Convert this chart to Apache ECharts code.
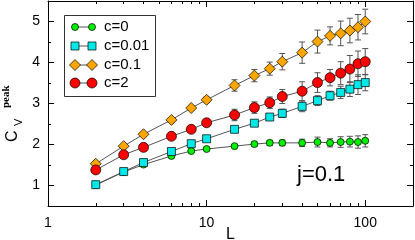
<!DOCTYPE html>
<html><head><meta charset="utf-8">
<script src="https://cdn.jsdelivr.net/npm/echarts@6/dist/echarts.min.js"></script>
<style>html,body{margin:0;padding:0;background:#fff}#c{width:415px;height:240px}</style>
</head><body><div id="c"></div>
<script>
// ---- data ----
const sizesL = [2,3,4,6,8,10,15,20,25,30,40,50,60,70,80,90,100];
const seriesNames = ['c=0','c=0.01','c=0.1','c=2'];
const c0    = [1.01,1.33,1.51,1.72,1.84,1.89,1.96,2.01,2.04,2.04,2.04,2.06,2.04,2.06,2.07,2.06,2.09];
const c0Err = [0.01,0.01,0.02,0.02,0.03,0.03,0.04,0.05,0.06,0.07,0.09,0.12,0.10,0.13,0.13,0.15,0.15];
const c001    = [1.02,1.34,1.56,1.83,2.02,2.14,2.37,2.52,2.67,2.76,2.93,3.07,3.19,3.27,3.35,3.46,3.51];
const c001Err = [0.01,0.01,0.02,0.02,0.03,0.03,0.06,0.07,0.08,0.10,0.13,0.12,0.11,0.15,0.18,0.24,0.20];
const c01    = [1.53,1.96,2.25,2.60,2.89,3.09,3.44,3.68,3.85,4.02,4.24,4.51,4.65,4.71,4.78,4.86,5.00];
const c01Err = [0.02,0.03,0.04,0.05,0.06,0.07,0.14,0.15,0.16,0.20,0.26,0.28,0.22,0.30,0.30,0.31,0.30];
const c2    = [1.38,1.75,1.93,2.20,2.37,2.53,2.72,2.90,3.02,3.17,3.30,3.51,3.63,3.74,3.84,3.97,4.02];
const c2Err = [0.02,0.03,0.03,0.04,0.05,0.06,0.14,0.14,0.14,0.17,0.23,0.24,0.20,0.28,0.33,0.31,0.32];
const xMajorTicks = [1,10,100];
const xMinorTicks = [2,3,4,5,6,7,8,9,20,30,40,50,60,70,80,90,200];
const yMajorTicks = [1,2,3,4,5];
const yMinorTicks = [0.5,1.5,2.5,3.5,4.5,5.5];

// ---- styles ----
const values = [c0, c001, c01, c2];
const errs = [c0Err, c001Err, c01Err, c2Err];
const colors = ['#00ee00','#00e8e8','#ffa500','#ff0000'];
const symbols = ['circle','rect','diamond','circle'];
const symSizes = [7, 8, 11, 10];
const FONT = 'Liberation Sans, Arial, Helvetica, sans-serif';

const chart = echarts.init(document.getElementById('c'), null, {renderer:'canvas'});

function xAx(pos, ticks, len, showLine, showLabel){
  return {type:'log', logBase:10, min:1, max:200, position:pos,
    axisLine:{show:showLine, lineStyle:{color:'#000', width:1}},
    axisTick:{show:true, inside:true, length:len, customValues:ticks, lineStyle:{color:'#000', width:1}},
    axisLabel:{show:showLabel, customValues:xMajorTicks, color:'#000', fontSize:14, fontFamily:FONT, margin:10},
    splitLine:{show:false}, minorTick:{show:false}};
}
function yAx(pos, ticks, len, showLine, showLabel){
  return {type:'value', min:0.5, max:5.5, position:pos,
    axisLine:{show:showLine, lineStyle:{color:'#000', width:1}},
    axisTick:{show:true, inside:true, length:len, customValues:ticks, lineStyle:{color:'#000', width:1}},
    axisLabel:{show:showLabel, customValues:yMajorTicks, color:'#000', fontSize:14, fontFamily:FONT, margin:8},
    splitLine:{show:false}};
}

const xAxes = [
  Object.assign(xAx('bottom', xMajorTicks, 6, true, true), {name:'L', nameLocation:'middle', nameGap:21,
    nameMoveOverlap:false,
    nameTextStyle:{color:'#000', fontSize:16, fontFamily:FONT, verticalAlign:'top'}}),
  xAx('bottom', xMinorTicks, 3, false, false),
  xAx('top', xMajorTicks, 6, true, false),
  xAx('top', xMinorTicks, 3, false, false)
];
const yAxes = [
  yAx('left', yMajorTicks, 6, true, true),
  yAx('left', yMinorTicks, 3, false, false),
  yAx('right', yMajorTicks, 6, true, false),
  yAx('right', yMinorTicks, 3, false, false)
];

const series = [];
// error bars
values.forEach((vals, i) => {
  series.push({
    type:'custom', name: seriesNames[i] + ' err', xAxisIndex:0, yAxisIndex:0, z:1,
    data: sizesL.map((L, k) => [L, vals[k] - errs[i][k], vals[k] + errs[i][k]]),
    encode:{x:0, y:[1,2]},
    renderItem: function(params, api){
      const x = api.value(0);
      const p1 = api.coord([x, api.value(1)]);
      const p2 = api.coord([x, api.value(2)]);
      const st = {stroke:'#555', lineWidth:1};
      return {type:'group', children:[
        {type:'line', shape:{x1:p1[0], y1:p1[1], x2:p2[0], y2:p2[1]}, style:st},
        {type:'line', shape:{x1:p1[0]-3, y1:p1[1], x2:p1[0]+3, y2:p1[1]}, style:st},
        {type:'line', shape:{x1:p2[0]-3, y1:p2[1], x2:p2[0]+3, y2:p2[1]}, style:st}
      ]};
    },
    animation:false
  });
});
values.forEach((vals, i) => {
  series.push({
    type:'line', name: seriesNames[i], xAxisIndex:0, yAxisIndex:0, z:3,
    data: sizesL.map((L, k) => [L, vals[k]]),
    symbol: symbols[i], symbolSize: symSizes[i], showAllSymbol:true,
    lineStyle:{color:'#555', width:1},
    itemStyle:{color: colors[i], borderColor:'#000', borderWidth:0.7},
    emphasis:{disabled:true},
    animation:false
  });
});

// legend drawn as graphic
const legendChildren = [
  {type:'rect', shape:{x:64.5, y:15.5, width:91, height:81}, style:{fill:'#fff', stroke:'#333', lineWidth:1}, z:10}
];
const rowsY = [27, 46, 65, 83];
function symbolShape(kind, cx, cy, size, color){
  const st = {fill:color, stroke:'#000', lineWidth:0.7};
  if (kind === 'circle') return {type:'circle', shape:{cx:cx, cy:cy, r:size/2}, style:st, z:12};
  if (kind === 'rect') return {type:'rect', shape:{x:cx-size/2, y:cy-size/2, width:size, height:size}, style:st, z:12};
  const h = size/2;
  return {type:'polygon', shape:{points:[[cx,cy-h],[cx+h,cy],[cx,cy+h],[cx-h,cy]]}, style:st, z:12};
}
seriesNames.forEach((nm, i) => {
  const y = rowsY[i];
  legendChildren.push({type:'line', shape:{x1:75, y1:y, x2:92, y2:y}, style:{stroke:'#555', lineWidth:1}, z:11});
  legendChildren.push(symbolShape(symbols[i], 75, y, symSizes[i], colors[i]));
  legendChildren.push(symbolShape(symbols[i], 92, y, symSizes[i], colors[i]));
  legendChildren.push({type:'text', x:104, y:y, style:{text:nm, fill:'#000', font:'15px ' + FONT, textVerticalAlign:'middle', textAlign:'left'}, z:12});
});

chart.setOption({
  animation:false,
  backgroundColor:'#fff',
  grid:{left:48, top:1, width:365, height:205, containLabel:false, outerBoundsMode:'none'},
  xAxis: xAxes,
  yAxis: yAxes,
  series: series,
  graphic:[
    ...legendChildren,
    {type:'text', x:297, y:175, style:{text:'j=0.1', fill:'#000', font:'22px ' + FONT, textVerticalAlign:'middle'}, z:12},
    {type:'group', x:21, y:142, rotation:Math.PI/2, children:[
      {type:'text', x:0, y:0, style:{text:'C', fill:'#000', font:'16px ' + FONT, textVerticalAlign:'bottom', textAlign:'left'}},
      {type:'text', x:16, y:3, style:{text:'V', fill:'#000', font:'11px ' + FONT, textVerticalAlign:'bottom', textAlign:'left'}},
      {type:'text', x:34, y:-9, style:{text:'peak', fill:'#000', font:'bold 11px "Liberation Serif", "Times New Roman", serif', textVerticalAlign:'bottom', textAlign:'left'}}
    ]}
  ]
});
</script></body></html>
